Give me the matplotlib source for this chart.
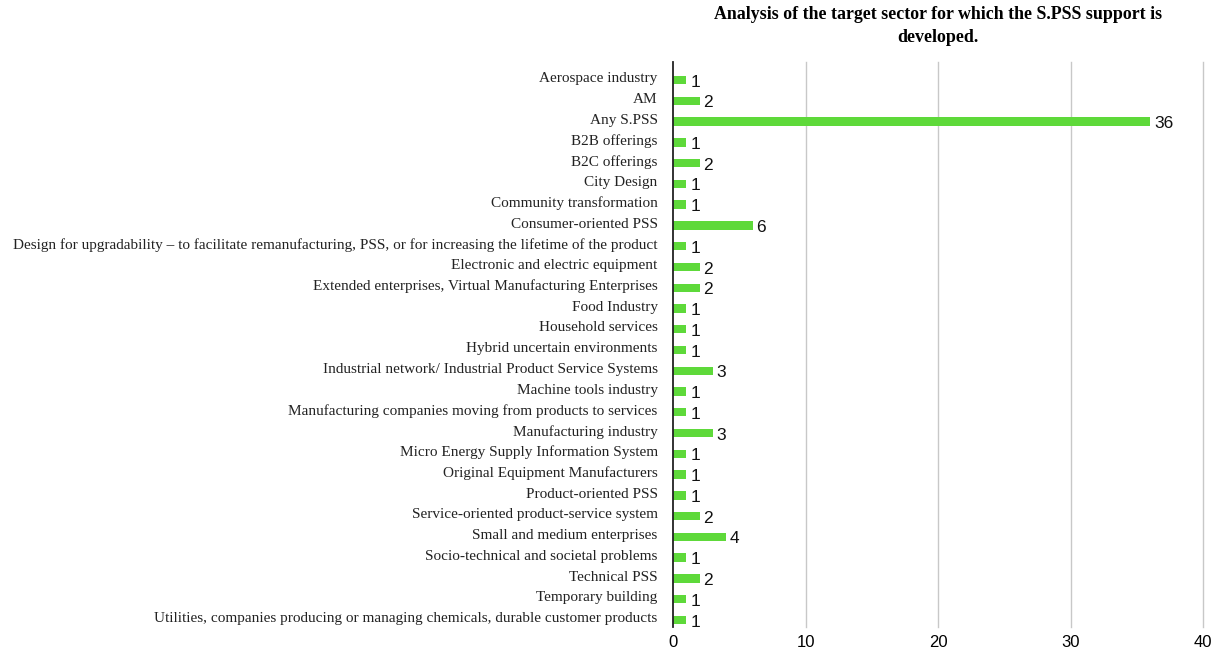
import matplotlib.pyplot as plt
from matplotlib.transforms import ScaledTranslation
import numpy as np

sectors = [
    "Aerospace industry",
    "AM",
    "Any S.PSS",
    "B2B offerings",
    "B2C offerings",
    "City Design",
    "Community transformation",
    "Consumer-oriented PSS",
    "Design for upgradability \u2013 to facilitate remanufacturing, PSS, or for increasing the lifetime of the product",
    "Electronic and electric equipment",
    "Extended enterprises, Virtual Manufacturing Enterprises",
    "Food Industry",
    "Household services",
    "Hybrid uncertain environments",
    "Industrial network/ Industrial Product Service Systems",
    "Machine tools industry",
    "Manufacturing companies moving from products to services",
    "Manufacturing industry",
    "Micro Energy Supply Information System",
    "Original Equipment Manufacturers",
    "Product-oriented PSS",
    "Service-oriented product-service system",
    "Small and medium enterprises",
    "Socio-technical and societal problems",
    "Technical PSS",
    "Temporary building",
    "Utilities, companies producing or managing chemicals, durable customer products",
]
counts = [1, 2, 36, 1, 2, 1, 1, 6, 1, 2, 2, 1, 1, 1, 3, 1, 1, 3, 1, 1, 1, 2, 4, 1, 2, 1, 1]
xticks = [0, 10, 20, 30, 40]

title = "Analysis of the target sector for which the S.PSS support is\ndeveloped."

fig = plt.figure(figsize=(12.18, 6.52), dpi=100)
ax = fig.add_axes([673 / 1218, 25 / 652, 530 / 1218, 565 / 652])

y = np.arange(len(sectors))
ax.barh(y, counts, height=0.4, color="#5ed93a", zorder=3)

for yi, c in zip(y, counts):
    ax.text(c + 0.3, yi + 0.1, str(c), va="center", ha="left",
            fontsize=12.5, family="Liberation Sans", color="#111111", zorder=4)

ax.set_ylim(len(sectors) - 1 + 0.34, -0.87)
ax.set_xlim(0, 40)
ax.set_yticks(y)
ax.set_yticklabels(sectors, family="Liberation Serif", fontsize=11.0, color="#222222")
ax.set_xticks(xticks)
ax.set_xticklabels([str(t) for t in xticks], family="Liberation Sans", fontsize=12)
ax.tick_params(axis="both", length=0)
ax.tick_params(axis="y", pad=11)
ax.tick_params(axis="x", pad=6)

# labels sit a little above the bars in the original
shift = ScaledTranslation(0, 2 / 72, fig.dpi_scale_trans)
for lab in ax.get_yticklabels():
    lab.set_transform(lab.get_transform() + shift)

for t in xticks[1:]:
    ax.axvline(t, color="#c8c8c8", lw=1, zorder=1, clip_on=False)

for s in ["top", "right", "bottom"]:
    ax.spines[s].set_visible(False)
ax.spines["left"].set_color("#222222")
ax.spines["left"].set_linewidth(1.3)
ax.spines["left"].set_zorder(5)

fig.text(938 / 1218, 1 - 26 / 652, title, ha="center", va="center",
         family="Liberation Serif", fontweight="bold", fontsize=12.9, linespacing=1.4)

fig.savefig("out.png", dpi=100)
